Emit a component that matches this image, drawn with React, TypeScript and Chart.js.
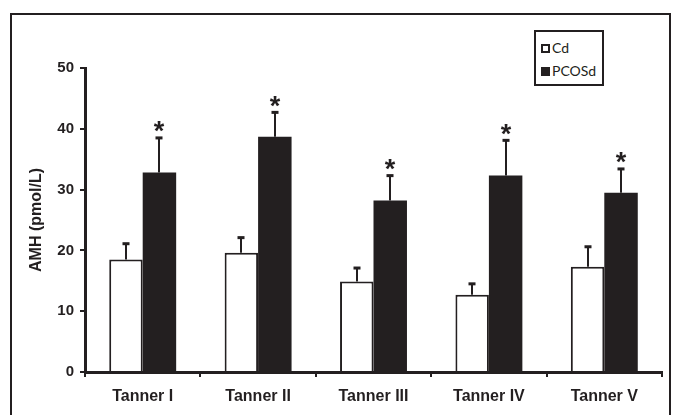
import React, { useEffect, useRef } from 'react';
import { Chart, registerables } from 'chart.js';

Chart.register(...registerables);

const categories = ['Tanner I', 'Tanner II', 'Tanner III', 'Tanner IV', 'Tanner V'];
const cdValues = [18.5, 19.6, 14.9, 12.7, 17.3];
const cdErrors = [2.6, 2.5, 2.2, 1.8, 3.3];
const pcosValues = [32.8, 38.7, 28.2, 32.3, 29.5];
const pcosErrors = [5.7, 4.0, 4.1, 5.8, 3.9];
const pcosSignificant = [true, true, true, true, true];
const seriesNames = ['Cd', 'PCOSd'];
const yAxisTitle = 'AMH (pmol/L)';

const INK = '#231f20';
const FONT = '"Liberation Sans", Arial, sans-serif';

const errorBarPlugin = {
  id: 'errorBars',
  afterDatasetsDraw(chart: any) {
    const ctx = chart.ctx;
    const yScale = chart.scales.y;
    const errs = [cdErrors, pcosErrors];
    ctx.save();
    ctx.strokeStyle = INK;
    ctx.fillStyle = INK;
    errs.forEach((errArr, di) => {
      const meta = chart.getDatasetMeta(di);
      const vals = chart.data.datasets[di].data as number[];
      meta.data.forEach((bar: any, i: number) => {
        const x = Math.round(bar.x);
        const y0 = yScale.getPixelForValue(vals[i]);
        const y1 = yScale.getPixelForValue(vals[i] + errArr[i]);
        ctx.lineWidth = 2;
        ctx.beginPath();
        ctx.moveTo(x, y0);
        ctx.lineTo(x, y1);
        ctx.stroke();
        ctx.fillRect(x - 3.5, y1 - 1.5, 7, 3);
        if (di === 1 && pcosSignificant[i]) {
          ctx.font = `bold 27px ${FONT}`;
          ctx.textAlign = 'center';
          ctx.textBaseline = 'alphabetic';
          const m = ctx.measureText('*');
          const desc = m.actualBoundingBoxDescent || -0.4 * 27;
          const baseline = y1 - 1.5 - 4 - desc;
          ctx.fillText('*', x, baseline);
        }
      });
    });
    ctx.restore();
  },
};

export default function App() {
  const canvasRef = useRef<HTMLCanvasElement | null>(null);

  useEffect(() => {
    if (!canvasRef.current) return;
    const chart = new Chart(canvasRef.current, {
      type: 'bar',
      data: {
        labels: categories,
        datasets: [
          {
            label: seriesNames[0],
            data: cdValues,
            backgroundColor: '#ffffff',
            borderColor: INK,
            borderWidth: 2,
            categoryPercentage: 0.58,
            barPercentage: 1,
          },
          {
            label: seriesNames[1],
            data: pcosValues,
            backgroundColor: INK,
            borderColor: INK,
            borderWidth: 0,
            categoryPercentage: 0.58,
            barPercentage: 1,
          },
        ],
      },
      options: {
        responsive: false,
        animation: false,
        devicePixelRatio: 1,
        layout: { padding: { top: 68, right: 11, bottom: 0, left: 0 } },
        plugins: {
          legend: { display: false },
          tooltip: { enabled: false },
        },
        scales: {
          x: {
            z: 1,
            grid: {
              offset: true,
              drawOnChartArea: false,
              drawTicks: true,
              tickLength: 5,
              color: INK,
              lineWidth: 2,
            },
            border: { color: INK, width: 3 },
            ticks: {
              color: INK,
              font: { family: FONT, weight: 'bold', size: 16 },
              padding: 10,
              maxRotation: 0,
            },
            afterFit: (scale: any) => {
              scale.height = 43;
            },
          },
          y: {
            min: 0,
            max: 50,
            grid: {
              drawOnChartArea: false,
              drawTicks: true,
              tickLength: 5,
              color: INK,
              lineWidth: 2,
            },
            border: { color: INK, width: 3 },
            ticks: {
              stepSize: 10,
              color: INK,
              font: { family: FONT, weight: 'bold', size: 15 },
              padding: 6,
            },
            title: {
              display: true,
              text: yAxisTitle,
              color: INK,
              font: { family: FONT, weight: 'bold', size: 16 },
              padding: { top: 27, bottom: 0 },
            },
            afterFit: (scale: any) => {
              scale.width = 85;
            },
          },
        },
      },
      plugins: [errorBarPlugin],
    });
    return () => chart.destroy();
  }, []);

  const legendSquare = (filled: boolean) => ({
    display: 'inline-block',
    boxSizing: 'border-box' as const,
    width: 9,
    height: 9,
    border: `2px solid ${INK}`,
    background: filled ? INK : '#fff',
    marginRight: 2,
  });

  return (
    <div
      style={{
        position: 'fixed',
        left: 0,
        top: 0,
        width: 673,
        height: 415,
        overflow: 'hidden',
        background: '#fff',
      }}
    >
      <canvas ref={canvasRef} width={673} height={415} style={{ position: 'absolute', left: 0, top: 0 }} />
      <div
        style={{
          position: 'absolute',
          left: 10,
          top: 13,
          width: 661,
          height: 430,
          boxSizing: 'border-box',
          borderTop: `2px solid ${INK}`,
          borderLeft: `2px solid ${INK}`,
          borderRight: `2px solid ${INK}`,
          pointerEvents: 'none',
        }}
      />
      <div
        style={{
          position: 'absolute',
          left: 534,
          top: 30,
          width: 70,
          height: 56,
          boxSizing: 'border-box',
          border: `2px solid ${INK}`,
          background: '#fff',
          fontFamily: 'Lato, "Open Sans", sans-serif',
          fontSize: 14,
          color: INK,
        }}
      >
        <div style={{ position: 'absolute', left: 5, top: 7, display: 'flex', alignItems: 'center', lineHeight: '18px' }}>
          <span style={legendSquare(false)} />
          <span>{seriesNames[0]}</span>
        </div>
        <div style={{ position: 'absolute', left: 5, top: 30, display: 'flex', alignItems: 'center', lineHeight: '18px' }}>
          <span style={legendSquare(true)} />
          <span>{seriesNames[1]}</span>
        </div>
      </div>
    </div>
  );
}
